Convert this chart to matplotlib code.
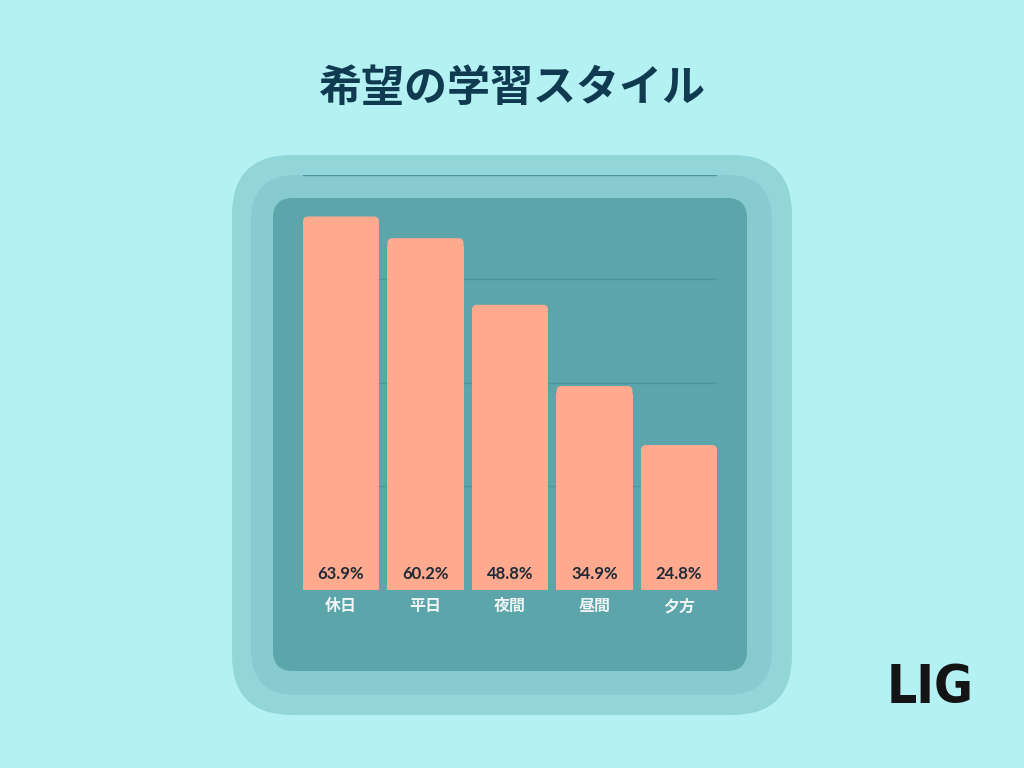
import matplotlib
matplotlib.use("Agg")
import matplotlib.pyplot as plt
from matplotlib.patches import FancyBboxPatch

plt.rcParams['font.family'] = ['Noto Sans CJK JP', 'DejaVu Sans']

categories = ['休日', '平日', '夜間', '昼間', '夕方']
values = [63.9, 60.2, 48.8, 34.9, 24.8]
value_labels = ['63.9%', '60.2%', '48.8%', '34.9%', '24.8%']
title = '希望の学習スタイル'

BG = '#b3f1f2'
OUTER = '#92d6da'
MIDDLE = '#87cbd0'
PANEL = '#5ba5ab'
BAR = '#ffa98f'
GRID = '#4f959b'

W, H = 1024, 768
fig = plt.figure(figsize=(W / 100, H / 100), dpi=100, facecolor=BG)

# background decoration axes in pixel coordinates
bg = fig.add_axes([0, 0, 1, 1])
bg.set_xlim(0, W)
bg.set_ylim(H, 0)
bg.axis('off')

def rrect(x0, y0, x1, y1, r, color):
    bg.add_patch(FancyBboxPatch((x0 + r, y0 + r), (x1 - x0) - 2 * r, (y1 - y0) - 2 * r,
                                boxstyle=f"round,pad={r}", facecolor=color,
                                edgecolor='none'))

rrect(232, 155, 792, 715, 60, OUTER)
rrect(251, 175, 772, 695, 45, MIDDLE)
rrect(273, 198, 747, 671, 20, PANEL)

bg.text(512, 88, title, ha='center', va='center', fontsize=31,
        fontweight='bold', color='#0f3a4f')
bg.text(930, 688, 'LIG', ha='center', va='center', fontsize=38,
        fontweight='heavy', fontstretch='ultra-condensed', color='#141414',
        family=['DejaVu Sans'])

# chart axes
left, right = 303 / W, 717 / W
bottom, top = 1 - 590 / H, 1 - 175 / H
ax = fig.add_axes([left, bottom, right - left, top - bottom])
ax.patch.set_alpha(0)
ymax = 71.0
ax.set_xlim(-0.45, len(categories) - 0.55)
ax.set_ylim(0, ymax)
for s in ax.spines.values():
    s.set_visible(False)
ax.set_yticks([ymax * k / 4 for k in range(1, 5)])
ax.set_yticklabels([])
ax.tick_params(axis='y', length=0)
ax.grid(axis='y', color=GRID, linewidth=1.0, zorder=0)
ax.set_axisbelow(True)

width = 0.9
px_x = (len(categories) - 0.1) / 414.0
px_y = ymax / 415.0
rad = 5
xs = list(range(len(categories)))
ax.bar(xs, [v - rad * px_y * 1.5 for v in values], width=width, color=BAR, zorder=2)
for x, v in zip(xs, values):
    ax.add_patch(FancyBboxPatch((x - width / 2, 0), width, v,
                                boxstyle=f"round,pad=0,rounding_size={rad * px_x}",
                                mutation_aspect=px_y / px_x,
                                facecolor=BAR, edgecolor='none', zorder=2))
for x, lab in zip(xs, value_labels):
    ax.text(x, 16 * px_y, lab, ha='center', va='center', fontsize=12,
            fontweight='bold', color='#1f2a36', family=['Lato', 'DejaVu Sans'],
            zorder=3)

ax.set_xticks(xs)
ax.set_xticklabels(categories, fontsize=11.5, fontweight='bold', color='#f2f4f4')
ax.tick_params(axis='x', length=0, pad=6)

fig.savefig('out.png', dpi=100, facecolor=BG)
